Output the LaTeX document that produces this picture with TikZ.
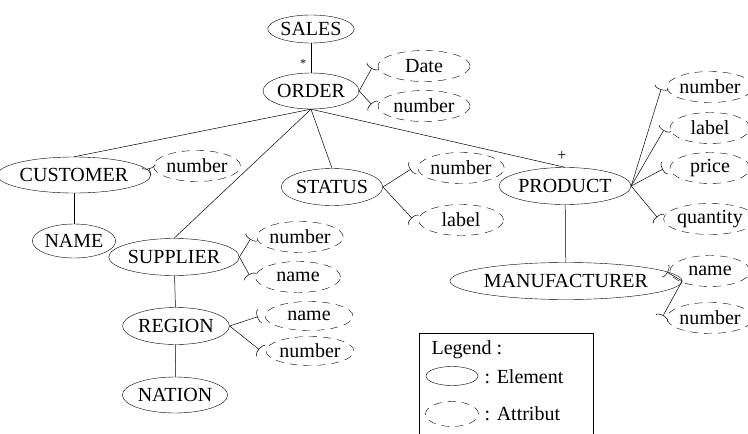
\documentclass[tikz,border=0pt]{standalone}
\usepackage{fontspec}
\setmainfont{Liberation Serif}
\usetikzlibrary{shapes.geometric, arrows.meta}

\begin{document}
\begin{tikzpicture}[x=1pt, y=-1pt,
    every node/.style={font=\fontsize{20}{23}\selectfont},
    element/.style={draw, ellipse, inner sep=0pt, minimum height=37pt},
    attribut/.style={draw, ellipse, dash pattern=on 8pt off 6pt, inner sep=0pt,
                     outer sep=5pt, minimum width=87pt, minimum height=31pt},
    link/.style={draw, line width=0.5pt},
    attlink/.style={draw, line width=0.5pt, -{Arc Barb[reversed, length=3pt, width=14pt]}}]
    \useasboundingbox (0,0) rectangle (748,434);

    % elements
    \node[element, minimum width=85pt, minimum height=28pt] (sales) at (311,29) {SALES};
    \node[element, minimum width=84pt, minimum height=36pt] (order) at (311,91) {ORDER};
    \node[element, minimum width=124pt, minimum height=36pt] (customer) at (74,175) {CUSTOMER};
    \node[element, minimum width=82pt, minimum height=34pt] (name) at (74,241) {NAME};
    \node[element, minimum width=102pt] (supplier) at (174,257) {SUPPLIER};
    \node[element, minimum width=88pt] (region) at (176,326) {REGION};
    \node[element, minimum width=90pt, minimum height=36pt] (nation) at (175,395) {NATION};
    \node[element, minimum width=96pt] (status) at (332,187) {STATUS};
    \node[element, minimum width=105pt] (product) at (565,186) {PRODUCT};
    \node[element, minimum width=182pt] (manufacturer) at (566,281) {MANUFACTURER};

    % attributes
    \node[attribut, minimum width=92pt] (orddate) at (424,66) {Date};
    \node[attribut, minimum width=92pt] (ordnumber) at (424,106) {number};
    \node[attribut] (cusnumber) at (197,166) {number};
    \node[attribut, minimum width=85pt] (supnumber) at (300,237) {number};
    \node[attribut, minimum width=85pt] (supname) at (298,277) {name};
    \node[attribut, minimum width=88pt, minimum height=29pt] (regname) at (309,316) {name};
    \node[attribut, minimum width=88pt, minimum height=29pt] (regnumber) at (310,351) {number};
    \node[attribut, minimum width=85pt] (stanumber) at (461,168) {number};
    \node[attribut, minimum width=85pt] (stalabel) at (461,220) {label};
    \node[attribut, minimum width=80pt] (pronumber) at (710,87) {number};
    \node[attribut, minimum width=80pt] (prolabel) at (710,128) {label};
    \node[attribut, minimum width=80pt] (proprice) at (710,168) {price};
    \node[attribut, minimum width=80pt] (proquantity) at (710,219) {quantity};
    \node[attribut, minimum width=80pt] (manname) at (710,271) {name};
    \node[attribut, minimum width=80pt] (mannumber) at (710,318) {number};

    % tree links
    \draw[link] (sales) -- (order);
    \node (star) at (303,64) {\fontsize{12}{12}\selectfont *};
    \draw[link] (order.south) -- (customer.north);
    \draw[link] (order.south) -- (supplier.north);
    \draw[link] (order.south) -- (status.north);
    \draw[link] (order.south) -- (product.north);
    \node (plus) at (562,156) {\fontsize{16}{16}\selectfont +};
    \draw[link] (customer) -- (name);
    \draw[link] (supplier) -- (region);
    \draw[link] (region) -- (nation);
    \draw[link] (product) -- (manufacturer);

    % attribute links
    \draw[attlink] (order.east) -- (orddate.west);
    \draw[attlink] (order.east) -- (ordnumber.west);
    \draw[attlink] (customer.east) -- (cusnumber.west);
    \draw[attlink] (supplier.east) -- (supnumber.west);
    \draw[attlink] (supplier.east) -- (supname.west);
    \draw[attlink] (region.east) -- (regname.west);
    \draw[attlink] (region.east) -- (regnumber.west);
    \draw[attlink] (status.east) -- (stanumber.west);
    \draw[attlink] (status.east) -- (stalabel.west);
    \draw[attlink] (product.east) -- (pronumber.west);
    \draw[attlink] (product.east) -- (prolabel.west);
    \draw[attlink] (product.east) -- (proprice.west);
    \draw[attlink] (product.east) -- (proquantity.west);
    \draw[attlink] (manufacturer.east) -- (manname.west);
    \draw[attlink] (manufacturer.east) -- (mannumber.west);

    % legend
    \draw[line width=0.5pt] (419,434) -- (419,333) -- (593,333) -- (593,434);
    \node[anchor=west] (legtitle) at (428,350) {Legend :};
    \node[draw, ellipse, minimum width=52pt, minimum height=19pt] (legelem) at (452,376) {};
    \node[anchor=west] (legelemtext) at (481,377) {: Element};
    \node[draw, ellipse, dash pattern=on 8pt off 6pt, minimum width=53pt, minimum height=25pt] (legatt) at (452,414) {};
    \node[anchor=west] (legatttext) at (481,414) {: Attribut};
\end{tikzpicture}
\end{document}
